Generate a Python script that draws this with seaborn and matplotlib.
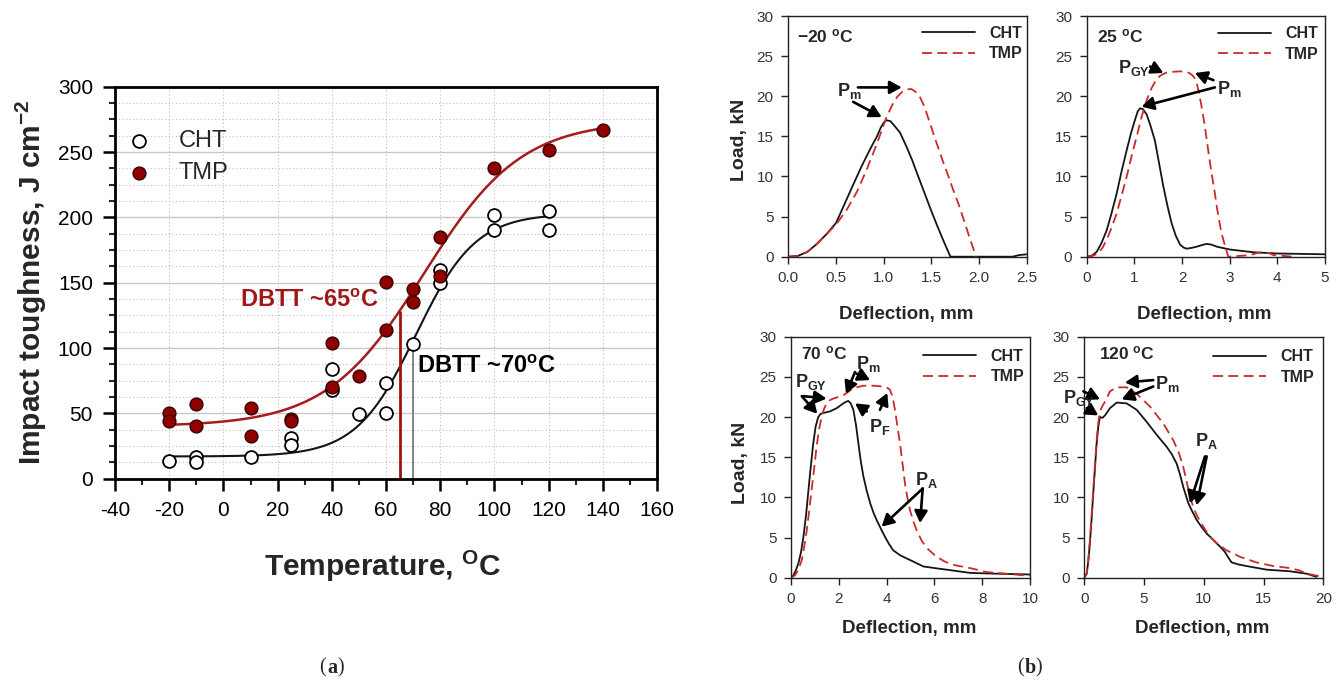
import numpy as np
import pandas as pd
import matplotlib
matplotlib.use("Agg")
import matplotlib.pyplot as plt
from matplotlib.ticker import MultipleLocator, FormatStrFormatter
import seaborn as sns

# ---------------- (a) impact toughness vs. test temperature ----------------
cht_temp = [-20, -10, -10, 10, 25, 25, 40, 40, 50, 60, 60, 70, 80, 80, 100, 100, 120, 120]
cht_tough = [13.5, 16.5, 13, 16.5, 31, 25.5, 84, 68, 49.5, 73.5, 50.5, 103, 159.5, 149.5,
             202, 190, 204.5, 190]
tmp_temp = [-20, -20, -10, -10, 10, 10, 25, 25, 40, 40, 50, 60, 60, 70, 70, 80, 80, 100, 120, 140]
tmp_tough = [50.5, 44, 57, 40, 54, 32.5, 46, 44, 104, 70.5, 78.5, 150.5, 114, 145, 135,
             185, 155, 237.5, 251.5, 267]

# tanh transition fits: lower shelf, upper shelf, mid temperature, transition width
cht_fit = (17, 203, 71, 22)
tmp_fit = (40, 274, 74, 36)
cht_fit_range = (-20, 120)
tmp_fit_range = (-20, 140)
dbtt_cht = 70
dbtt_tmp = 65

temp_ticks = [-40, -20, 0, 20, 40, 60, 80, 100, 120, 140, 160]
temp_ticklabels = ["-40", "-20", "0", "20", "40", "60", "80", "100", "120", "140", "160"]
tough_ticks = [0, 50, 100, 150, 200, 250, 300]

# ---------------- (b) instrumented impact load-deflection curves ----------------
m20_cht_x = [0, 0.1, 0.2, 0.3, 0.4, 0.5, 0.55, 0.61, 0.67, 0.72, 0.77, 0.82, 0.88, 0.93, 0.97,
             1.0, 1.03, 1.07, 1.10, 1.17, 1.24, 1.30, 1.35, 1.42, 1.49, 1.56, 1.63, 1.70,
             2.35, 2.42, 2.5]
m20_cht_y = [0, 0.1, 0.6, 1.6, 2.8, 4.2, 5.5, 7.1, 8.7, 10.0, 11.3, 12.5, 13.9, 15.0, 16.1,
             16.7, 17.0, 16.9, 16.5, 15.5, 13.7, 12.0, 10.4, 8.2, 6.0, 3.9, 1.9, 0,
             0, 0.2, 0.3]
m20_tmp_x = [0, 0.1, 0.2, 0.3, 0.4, 0.5, 0.61, 0.72, 0.82, 0.93, 1.03, 1.09, 1.14, 1.19, 1.24,
             1.29, 1.33, 1.38, 1.42, 1.45, 1.52, 1.58, 1.63, 1.68, 1.73, 1.79, 1.84, 1.90, 1.97]
m20_tmp_y = [0, 0.1, 0.6, 1.6, 2.8, 4.0, 5.8, 8.1, 10.8, 14.1, 17.4, 18.9, 19.9, 20.5, 20.85,
             20.9, 20.6, 19.9, 18.9, 17.9, 15.4, 13.3, 11.6, 10.0, 8.3, 6.4, 4.6, 2.4, 0]

t25_cht_x = [0, 0.1, 0.21, 0.31, 0.42, 0.52, 0.63, 0.73, 0.84, 0.93, 1.01, 1.07, 1.12, 1.18,
             1.26, 1.34, 1.43, 1.52, 1.61, 1.70, 1.78, 1.87, 1.96, 2.03, 2.10, 2.20, 2.31,
             2.42, 2.52, 2.62, 2.73, 3.0, 3.5, 4.0, 4.5, 5.0]
t25_cht_y = [0, 0.1, 0.6, 1.7, 3.3, 5.4, 7.9, 10.6, 13.3, 15.4, 17.0, 18.1, 18.5, 18.4,
             17.7, 16.3, 14.5, 11.6, 8.7, 6.2, 4.2, 2.6, 1.5, 1.15, 1.0, 1.1, 1.25,
             1.45, 1.6, 1.5, 1.25, 0.9, 0.55, 0.4, 0.35, 0.3]
t25_tmp_x = [0, 0.12, 0.24, 0.33, 0.42, 0.52, 0.63, 0.73, 0.84, 0.94, 1.05, 1.15, 1.26, 1.36,
             1.47, 1.58, 1.68, 1.82, 1.96, 2.08, 2.15, 2.22, 2.27, 2.31, 2.36, 2.41, 2.47,
             2.52, 2.57, 2.62, 2.68, 2.73, 2.78, 2.83, 2.90, 2.97, 3.43, 3.57, 3.71, 3.82,
             3.92, 4.34]
t25_tmp_y = [0, 0.1, 0.4, 1.1, 2.1, 3.6, 5.4, 7.6, 10.0, 12.5, 15.0, 17.4, 19.5, 21.0,
             22.2, 22.7, 22.95, 23.05, 23.1, 23.05, 22.9, 22.6, 22.2, 21.6, 20.3, 18.7, 16.6,
             14.5, 12.4, 10.4, 8.3, 6.2, 4.5, 2.9, 1.4, 0, 0.2, 0.45, 0.6, 0.45, 0.2, 0]

t70_cht_x = [0, 0.1, 0.2, 0.31, 0.42, 0.52, 0.63, 0.73, 0.83, 0.93, 1.03, 1.14, 1.24, 1.35,
             1.63, 1.91, 2.19, 2.30, 2.40, 2.50, 2.61, 2.72, 2.82, 2.92, 3.03, 3.17, 3.31,
             3.45, 3.58, 3.76, 3.93, 4.10, 4.28, 4.56, 4.84, 5.19, 5.54, 6.0, 6.51, 7.0, 7.49,
             8.0, 8.6, 9.3, 10.0]
t70_cht_y = [0, 0.3, 0.9, 1.8, 3.2, 5.1, 7.8, 10.9, 13.9, 16.7, 18.8, 20.0, 20.4, 20.5,
             20.7, 21.1, 21.7, 21.9, 22.0, 21.7, 20.9, 19.0, 16.7, 14.5, 12.6, 10.8, 9.3,
             8.1, 7.2, 6.1, 5.1, 4.2, 3.4, 2.8, 2.4, 1.9, 1.4, 1.2, 1.0, 0.8, 0.6,
             0.55, 0.5, 0.45, 0.4]
t70_tmp_x = [0, 0.17, 0.31, 0.45, 0.55, 0.66, 0.76, 0.86, 0.97, 1.07, 1.17, 1.28, 1.38, 1.49,
             1.63, 1.77, 2.19, 2.61, 3.03, 3.44, 3.86, 4.00, 4.14, 4.25, 4.35, 4.45, 4.56,
             4.67, 4.77, 4.88, 4.98, 5.12, 5.26, 5.47, 5.68, 6.09, 6.44, 6.79, 7.49, 8.19,
             9.02, 9.72, 10.0]
t70_tmp_y = [0, 0.3, 1.0, 2.2, 3.8, 5.9, 8.3, 10.9, 13.6, 16.3, 18.4, 20.0, 21.0, 21.7,
             22.1, 22.3, 22.7, 23.6, 23.9, 23.9, 23.8, 23.7, 23.4, 22.5, 20.9, 18.9, 16.7,
             14.1, 11.7, 9.8, 8.4, 7.0, 5.9, 4.6, 3.7, 2.6, 2.0, 1.6, 1.2, 0.7,
             0.5, 0.3, 0.3]

t120_cht_x = [0, 0.2, 0.33, 0.47, 0.61, 0.75, 0.89, 1.03, 1.17, 1.31, 1.52, 1.73, 2.15,
              2.71, 3.54, 4.38, 5.22, 6.05, 6.89, 7.31, 7.73, 8.0, 8.28, 8.70, 9.05, 9.40,
              9.82, 10.24, 10.66, 11.07, 11.47, 11.77, 12.05, 12.33, 12.9, 13.58, 15.26,
              17.21, 18.6, 19.44]
t120_cht_y = [0, 0.5, 2.0, 4.3, 7.3, 10.5, 13.6, 16.7, 18.8, 20.0, 19.9, 20.2, 21.1,
              21.8, 21.7, 20.9, 19.4, 17.8, 16.3, 15.4, 14.2, 12.9, 11.3, 9.3, 8.2, 7.2,
              6.3, 5.5, 4.9, 4.3, 3.7, 3.2, 2.5, 1.9, 1.65, 1.45, 1.0,
              0.8, 0.5, 0.1]
t120_tmp_x = [0, 0.2, 0.33, 0.47, 0.61, 0.75, 0.89, 1.03, 1.17, 1.31, 1.52, 1.73, 2.15,
              2.71, 3.54, 4.38, 5.5, 6.61, 7.45, 7.9, 8.28, 8.56, 8.84, 9.12, 9.40, 9.82,
              10.24, 10.66, 11.07, 11.91, 13.03, 14.42, 15.82, 17.21, 18.0, 18.6, 19.3, 20.0]
t120_tmp_y = [0, 0.5, 2.2, 4.7, 7.8, 10.9, 14.0, 17.1, 19.3, 20.7, 21.4, 21.9, 23.2,
              23.7, 23.7, 22.9, 21.3, 19.2, 17.1, 15.6, 13.8, 12.0, 10.1, 8.8, 7.8, 6.7,
              5.7, 4.9, 4.3, 3.4, 2.6, 1.9, 1.45, 1.2, 0.9, 0.5, 0.3, 0.1]

load_ticks = [0, 5, 10, 15, 20, 25, 30]

# ---------------- styling ----------------
sns.set_theme(style="white")
plt.rcParams["font.family"] = ["Liberation Sans", "DejaVu Sans"]
plt.rcParams["mathtext.default"] = "regular"
plt.rcParams["axes.unicode_minus"] = False

CHT_COLOR = "#151515"
TMP_LINE = "#a61c1c"
TMP_FILL = "#8f0000"
TMP_DASH = "#cc2a2a"

W, H = 1343, 680
fig = plt.figure(figsize=(W / 100, H / 100), dpi=100)
fig.patch.set_facecolor("white")


def rect(left, top, right, bottom):
    return [left / W, 1 - bottom / H, (right - left) / W, (bottom - top) / H]


def tanh_fit(t, p):
    lo, hi, t0, c = p
    return (lo + hi) / 2 + (hi - lo) / 2 * np.tanh((np.asarray(t, float) - t0) / c)


# ======================= panel (a) =======================
ax = fig.add_axes(rect(115, 86.7, 657, 478.7))
ax.set_xlim(-40, 160)
ax.set_ylim(0, 300)

# grid: solid at major toughness steps, dotted at minor ones and at temperature ticks
for yv in np.arange(12.5, 300, 12.5):
    if yv % 50 == 0:
        ax.axhline(yv, color="#c9c9c9", lw=1.0, zorder=0)
    else:
        ax.axhline(yv, color="#bdbdbd", lw=0.8, ls=(0, (1, 2.2)), zorder=0)
for xv in temp_ticks[1:-1]:
    ax.axvline(xv, color="#bdbdbd", lw=0.8, ls=(0, (1, 2.2)), zorder=0)

tc = np.linspace(*cht_fit_range, 300)
tt = np.linspace(*tmp_fit_range, 300)
sns.lineplot(x=tc, y=tanh_fit(tc, cht_fit), color=CHT_COLOR, lw=1.5, ax=ax,
             sort=False, estimator=None, zorder=2)
sns.lineplot(x=tt, y=tanh_fit(tt, tmp_fit), color=TMP_LINE, lw=1.8, ax=ax,
             sort=False, estimator=None, zorder=2)

ax.vlines(dbtt_tmp, 0, tanh_fit(dbtt_tmp, tmp_fit), color="#a01010", lw=2.0, zorder=2)
ax.vlines(dbtt_cht, 0, tanh_fit(dbtt_cht, cht_fit), color="#707070", lw=1.2, zorder=2)

sns.scatterplot(x=cht_temp, y=cht_tough, color="white", edgecolor="black", linewidth=1.3,
                s=85, ax=ax, zorder=4, label="CHT")
sns.scatterplot(x=tmp_temp, y=tmp_tough, color=TMP_FILL, edgecolor="#3a0000", linewidth=1.0,
                s=85, ax=ax, zorder=5, label="TMP")

ax.text(6, 136, "DBTT ~%d$^{o}$C" % dbtt_tmp, color="#a01818", fontsize=17,
        fontweight="bold", va="center", ha="left", zorder=6)
ax.text(71.3, 86, "DBTT ~%d$^{o}$C" % dbtt_cht, color="black", fontsize=17,
        fontweight="bold", va="center", ha="left", zorder=6)

ax.legend(loc="upper left", bbox_to_anchor=(0.022, 0.89), frameon=False,
          fontsize=17, handlelength=1.0, handletextpad=1.2, labelspacing=0.42,
          borderpad=0, borderaxespad=0)

ax.set_xticks(temp_ticks)
ax.set_xticklabels(temp_ticklabels)
ax.set_yticks(tough_ticks)
ax.xaxis.set_minor_locator(MultipleLocator(10))
ax.yaxis.set_minor_locator(MultipleLocator(12.5))
ax.tick_params(which="major", direction="out", length=8.4, width=1.8, labelsize=15,
               colors="black", pad=7.5, bottom=True, left=True)
ax.tick_params(which="minor", direction="out", length=4.3, width=1.5, bottom=True, left=True)
for s in ax.spines.values():
    s.set_visible(True)
    s.set_linewidth(2.0)
    s.set_color("black")

ax.set_xlabel("Temperature, $^{O}$C", fontsize=21.5, fontweight="bold", va="center")
ax.xaxis.set_label_coords(0.495, -0.225)
ax.set_ylabel("Impact toughness, J cm$^{-2}$", fontsize=21.5, fontweight="bold", va="center")
ax.yaxis.set_label_coords(-0.155, 0.5)


# ======================= panel (b) =======================
def curve_panel(box, xlim, xstep, xfmt, cht, tmp, title, title_pos, leg_anchor, ylab_pos,
                xlab_y):
    a = fig.add_axes(box)
    sns.lineplot(x=cht[0], y=cht[1], color=CHT_COLOR, lw=1.3, ax=a, sort=False,
                 estimator=None, label="CHT")
    sns.lineplot(x=tmp[0], y=tmp[1], color=TMP_DASH, lw=1.3, ax=a, sort=False,
                 estimator=None, label="TMP")
    a.lines[1].set_linestyle((0, (5.5, 3)))
    a.set_xlim(*xlim)
    a.set_ylim(0, 30)
    a.set_yticks(load_ticks)
    a.xaxis.set_major_locator(MultipleLocator(xstep))
    a.xaxis.set_major_formatter(FormatStrFormatter(xfmt))
    a.tick_params(direction="out", length=5, width=1.0, labelsize=11, colors="#222222",
                  labelcolor="#333333", pad=5.5, bottom=True, left=True)
    for s in a.spines.values():
        s.set_visible(True)
        s.set_linewidth(1.0)
        s.set_color("#222222")
    a.legend(loc="upper left", bbox_to_anchor=leg_anchor, frameon=False,
             prop={"weight": "bold", "size": 11.5}, handlelength=3.3, handletextpad=0.9,
             labelspacing=0.35, borderpad=0, borderaxespad=0)
    a.text(title_pos[0], title_pos[1], title, transform=a.transAxes, fontsize=12.5,
           fontweight="bold", va="center", ha="left")
    a.set_xlabel("Deflection, mm", fontsize=13.5, fontweight="bold", va="center")
    a.xaxis.set_label_coords(0.494, xlab_y)
    if ylab_pos is not None:
        a.set_ylabel("Load, kN", fontsize=14, fontweight="bold", va="center")
        a.yaxis.set_label_coords(*ylab_pos)
    else:
        a.set_ylabel("")
    return a


def arrow(a, start, end):
    a.annotate("", xy=end, xytext=start,
               arrowprops=dict(arrowstyle="-|>,head_length=0.55,head_width=0.3", lw=1.9,
                               color="black", shrinkA=0, shrinkB=0, mutation_scale=13),
               annotation_clip=False, zorder=6)


def plabel(a, x, y, sub):
    a.text(x, y, "P$_{%s}$" % sub, fontsize=13, fontweight="bold", va="center", ha="left",
           zorder=7, clip_on=False)


ax1 = curve_panel(rect(788.3, 16, 1026.7, 256.7), (0, 2.5), 0.5, "%.1f",
                  (m20_cht_x, m20_cht_y), (m20_tmp_x, m20_tmp_y), "\u221220 $^{o}$C",
                  (0.035, 0.917), (0.56, 0.96), (-0.203, 0.485), -0.24)
plabel(ax1, 0.51, 20.6, "m")
arrow(ax1, (0.73, 21.1), (1.19, 21.1))
arrow(ax1, (0.68, 19.3), (0.98, 17.4))

ax2 = curve_panel(rect(1086.7, 16, 1325, 256.7), (0, 5), 1, "%d",
                  (t25_cht_x, t25_cht_y), (t25_tmp_x, t25_tmp_y), "25 $^{o}$C",
                  (0.045, 0.914), (0.552, 0.958), None, -0.24)
plabel(ax2, 0.66, 23.5, "GY")
arrow(ax2, (1.33, 23.7), (1.61, 22.9))
plabel(ax2, 2.73, 20.9, "m")
arrow(ax2, (2.66, 22.0), (2.27, 22.9))
arrow(ax2, (2.69, 21.1), (1.15, 18.7))

ax3 = curve_panel(rect(791, 336.7, 1030, 577.7), (0, 10), 2, "%d",
                  (t70_cht_x, t70_cht_y), (t70_tmp_x, t70_tmp_y), "70 $^{o}$C",
                  (0.04, 0.93), (0.554, 0.95), (-0.21, 0.475), -0.21)
plabel(ax3, 0.17, 24.4, "GY")
arrow(ax3, (0.45, 22.6), (1.10, 20.4))
arrow(ax3, (0.52, 22.6), (1.49, 22.3))
plabel(ax3, 2.72, 26.6, "m")
arrow(ax3, (2.68, 25.6), (2.30, 22.9))
arrow(ax3, (2.75, 25.4), (3.31, 24.6))
plabel(ax3, 3.28, 18.7, "F")
arrow(ax3, (3.17, 20.7), (2.68, 21.7))
arrow(ax3, (3.72, 20.9), (4.03, 23.0))
plabel(ax3, 5.19, 12.2, "A")
arrow(ax3, (5.51, 11.1), (3.79, 6.35))
arrow(ax3, (5.51, 11.1), (5.40, 6.8))

ax4 = curve_panel(rect(1084.3, 336.7, 1323.3, 577.7), (0, 20), 5, "%d",
                  (t120_cht_x, t120_cht_y), (t120_tmp_x, t120_tmp_y), "120 $^{o}$C",
                  (0.063, 0.93), (0.54, 0.948), None, -0.21)
plabel(ax4, -1.76, 22.4, "GY")
arrow(ax4, (-0.08, 23.2), (1.31, 22.2))
arrow(ax4, (0.2, 21.1), (1.17, 20.2))
plabel(ax4, 5.91, 24.1, "m")
arrow(ax4, (5.77, 24.6), (3.40, 24.3))
arrow(ax4, (5.77, 23.8), (3.12, 22.2))
plabel(ax4, 9.26, 17.0, "A")
arrow(ax4, (10.1, 15.1), (8.84, 9.25))
arrow(ax4, (10.24, 15.1), (9.40, 9.0))


# panel captions: regular parentheses around a bold letter
def caption(xc, yc, letter):
    y = 1 - yc / H
    serif = ["Liberation Serif", "DejaVu Serif"]
    fig.text(xc / W, y, letter, fontsize=14.5, fontweight="bold", family=serif,
             ha="center", va="center")
    fig.text((xc - 5.8) / W, y, "(", fontsize=14.5, family=serif, ha="right", va="center")
    fig.text((xc + 5.8) / W, y, ")", fontsize=14.5, family=serif, ha="left", va="center")


caption(332, 668, "a")
caption(1030, 668, "b")

fig.savefig("out.png", dpi=100, facecolor="white")
